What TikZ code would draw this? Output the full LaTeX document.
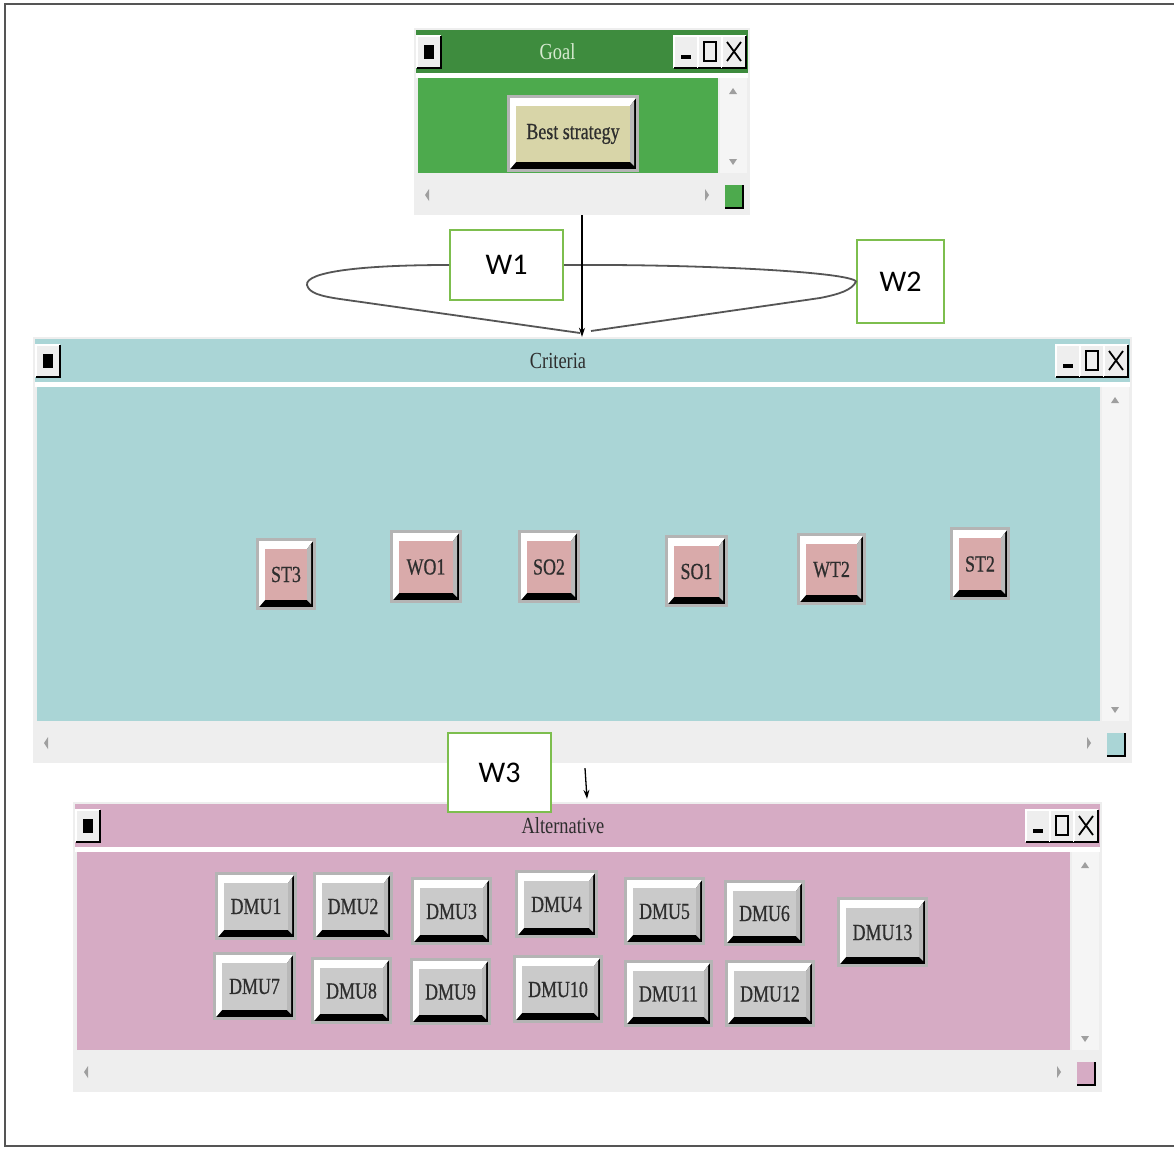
\documentclass[tikz,border=0pt]{standalone}
\usepackage{fontspec}
\setmainfont{Liberation Serif}
\newfontfamily\btnfont[FakeStretch=0.78,FakeBold=0.6]{Liberation Serif}
\newfontfamily\ttlfont[FakeStretch=0.8]{Liberation Serif}
\newfontfamily\wfont{Carlito}
\usetikzlibrary{calc,arrows.meta}

\definecolor{goaltitle}{HTML}{3E8C3E}
\definecolor{goalbody}{HTML}{4DAA4D}
\definecolor{critcol}{HTML}{AAD5D6}
\definecolor{altcol}{HTML}{D6ABC4}
\definecolor{winbg}{HTML}{EEEEEE}
\definecolor{btnrim}{HTML}{B4B4B4}
\definecolor{pinkface}{HTML}{D9AAAA}
\definecolor{khakiface}{HTML}{D8D5A8}
\definecolor{dmuface}{HTML}{CACACA}
\definecolor{wgreen}{HTML}{7DBE4E}
\definecolor{framecol}{HTML}{555555}
\definecolor{goaltext}{HTML}{D6EAD0}
\definecolor{darktext}{HTML}{2E2E2E}

\tikzset{
  winnode/.style={fill=winbg, draw=none, inner sep=0pt},
  btnface/.style={inner sep=0pt, text=darktext,
    font=\btnfont\fontsize{23}{23}\selectfont},
  wbox/.style={draw=wgreen, line width=2pt, fill=white, inner sep=0pt,
    font=\wfont\fontsize{30}{30}\selectfont},
  loopline/.style={draw=framecol, line width=1.8pt},
  tbtn/.style={fill=winbg},
  scrollarrow/.style={fill=gray!75}
}

% a raised push button: name, cx, cy, w, h, face colour, label
\newcommand{\bevbtn}[7]{%
  \pgfmathsetmacro\bxa{#2-#4/2}\pgfmathsetmacro\bxb{#2+#4/2}%
  \pgfmathsetmacro\bya{#3-#5/2}\pgfmathsetmacro\byb{#3+#5/2}%
  \fill[btnrim] (\bxa-3,\bya-3) rectangle (\bxb+3,\byb+3);
  \fill[black] (\bxa,\bya) rectangle (\bxb,\byb);
  \fill[white] (\bxa,\bya) -- (\bxb,\bya) -- (\bxb-6,\bya+8) -- (\bxa+6,\bya+8)
     -- (\bxa+6,\byb-7) -- (\bxa,\byb) -- cycle;
  \fill[gray!55] (\bxb-6,\bya+8) -- (\bxb-2,\bya+3) -- (\bxb-2,\byb-3) -- (\bxb-6,\byb-7) -- cycle;
  \node[btnface, fill=#6, minimum width=#4-12, minimum height=#5-15] (#1) at (#2,#3+0.5) {#7};
}

% a small title-bar button: x0, y0, x1, y1
\newcommand{\titlebtn}[4]{%
  \fill[tbtn] (#1,#2) rectangle (#3,#4);
  \draw[white, line width=1.5pt] (#1,#4) -- (#1,#2) -- (#3,#2);
  \draw[black, line width=2pt] (#1,#4) -- (#3,#4) -- (#3,#2);
}

% an application window: name, x0, y0, x1, y1, title colour, body colour, title, title text colour
\newcommand{\appwindow}[9]{%
  \node[winnode, minimum width=#4-#2, minimum height=#5-#3] (#1) at ({(#2+#4)/2},{(#3+#5)/2}) {};
  \fill[#6] (#2+2,#3+2) rectangle (#4-2,#3+45);
  \fill[white] (#2+2,#3+45) rectangle (#4-2,#3+50);
  \fill[#7] (#2+4,#3+50) rectangle (#4-32,#5-42);
  \fill[white!96!black] (#4-30,#3+50) rectangle (#4-3,#5-42);
  \fill[#7] (#4-25,#5-30) rectangle (#4-7,#5-7);
  \draw[black, line width=2pt] (#4-25,#5-7) -- (#4-7,#5-7) -- (#4-7,#5-30);
  \node[text=#9, font=\ttlfont\fontsize{23}{23}\selectfont] at ({(#2+#4)/2-24.5},#3+24) {#8};
  % title-bar controls
  \titlebtn{#2+3}{#3+8}{#2+27}{#3+40}
  \fill[black] (#2+10,#3+17) rectangle (#2+20,#3+31);
  \titlebtn{#4-76}{#3+8}{#4-52}{#3+40}
  \fill[black] (#4-69,#3+27) rectangle (#4-59,#3+31);
  \titlebtn{#4-52}{#3+8}{#4-28}{#3+40}
  \draw[black, line width=1.6pt] (#4-46,#3+14) rectangle (#4-34,#3+33);
  \titlebtn{#4-28}{#3+8}{#4-4}{#3+40}
  \draw[black, line width=1.8pt] (#4-23,#3+14) -- (#4-9,#3+33) (#4-9,#3+14) -- (#4-23,#3+33);
  % scroll arrows
  \fill[scrollarrow] (#4-17,#3+60) -- (#4-13,#3+66) -- (#4-21,#3+66) -- cycle;
  \fill[scrollarrow] (#4-17,#5-50) -- (#4-13,#5-56) -- (#4-21,#5-56) -- cycle;
  \fill[scrollarrow] (#2+11,#5-20) -- (#2+15,#5-26) -- (#2+15,#5-14) -- cycle;
  \fill[scrollarrow] (#4-41,#5-20) -- (#4-45,#5-26) -- (#4-45,#5-14) -- cycle;
}

\begin{document}
\begin{tikzpicture}[x=1pt,y=-1pt]
\useasboundingbox (0,0) rectangle (1174,1148);
\fill[white] (0,0) rectangle (1174,1148);
\draw[framecol, line width=2.2pt] (5,4) rectangle (1182,1146);

% windows
\appwindow{goalwin}{414}{28}{750}{215}{goaltitle}{goalbody}{Goal}{goaltext}
\appwindow{critwin}{33}{337}{1132}{763}{critcol}{critcol}{Criteria}{darktext}
\appwindow{altwin}{73}{802}{1102}{1092}{altcol}{altcol}{Alternative}{darktext}

% goal
\bevbtn{best}{573}{133.5}{126}{71}{khakiface}{Best strategy}

% criteria
\bevbtn{st3}{286}{574}{54}{66}{pinkface}{ST3}
\bevbtn{wo1}{426}{566.5}{66}{67}{pinkface}{WO1}
\bevbtn{so2}{549}{566.5}{56}{67}{pinkface}{SO2}
\bevbtn{so1}{696.5}{571}{57}{66}{pinkface}{SO1}
\bevbtn{wt2}{831.5}{569}{63}{66}{pinkface}{WT2}
\bevbtn{st2}{980}{563.5}{54}{67}{pinkface}{ST2}

% alternatives
\bevbtn{dmu1}{256}{906}{76}{62}{dmuface}{DMU1}
\bevbtn{dmu2}{353}{906}{74}{62}{dmuface}{DMU2}
\bevbtn{dmu3}{451.5}{911}{75}{62}{dmuface}{DMU3}
\bevbtn{dmu4}{556.5}{904}{77}{62}{dmuface}{DMU4}
\bevbtn{dmu5}{664.5}{911}{75}{62}{dmuface}{DMU5}
\bevbtn{dmu6}{764.5}{913}{75}{60}{dmuface}{DMU6}
\bevbtn{dmu13}{882.5}{932}{85}{64}{dmuface}{DMU13}
\bevbtn{dmu7}{254.5}{986}{77}{62}{dmuface}{DMU7}
\bevbtn{dmu8}{351.5}{990.5}{75}{61}{dmuface}{DMU8}
\bevbtn{dmu9}{450.5}{991.5}{75}{61}{dmuface}{DMU9}
\bevbtn{dmu10}{558}{989}{84}{62}{dmuface}{DMU10}
\bevbtn{dmu11}{668.5}{993.5}{83}{61}{dmuface}{DMU11}
\bevbtn{dmu12}{770}{993.5}{84}{61}{dmuface}{DMU12}

% weight labels
\node[wbox, minimum width=113, minimum height=70] (w1) at (506.5,265) {W1};
\node[wbox, minimum width=87, minimum height=83] (w2) at (900.5,281.5) {W2};

% goal -> criteria
\coordinate (tipL) at (580,333);
\coordinate (tipR) at (591,331);
\draw[loopline] (w1.west) .. controls (360,265) and (305,272) .. (307,285)
  .. controls (309,293) and (320,296) .. (340,299) -- (tipL);
\draw[loopline] (w1.east) .. controls (700,264) and (850,272) .. (w2.west)
  .. controls (852,290) and (840,294) .. (820,298) -- (tipR);
\draw[black, line width=1.3pt, -{Stealth[length=9pt,width=6pt]}]
  (goalwin.south) -- (goalwin.south |- critwin.north);

% criteria -> alternatives
\node[wbox, minimum width=103, minimum height=79] (w3) at (499.5,772.5) {W3};
\draw[black, line width=1.3pt, -{Stealth[length=9pt,width=6pt]}]
  ($(critwin.south)+(2.5,5)$) -- ($(altwin.north)+(-0.5,-3)$);
\end{tikzpicture}
\end{document}
